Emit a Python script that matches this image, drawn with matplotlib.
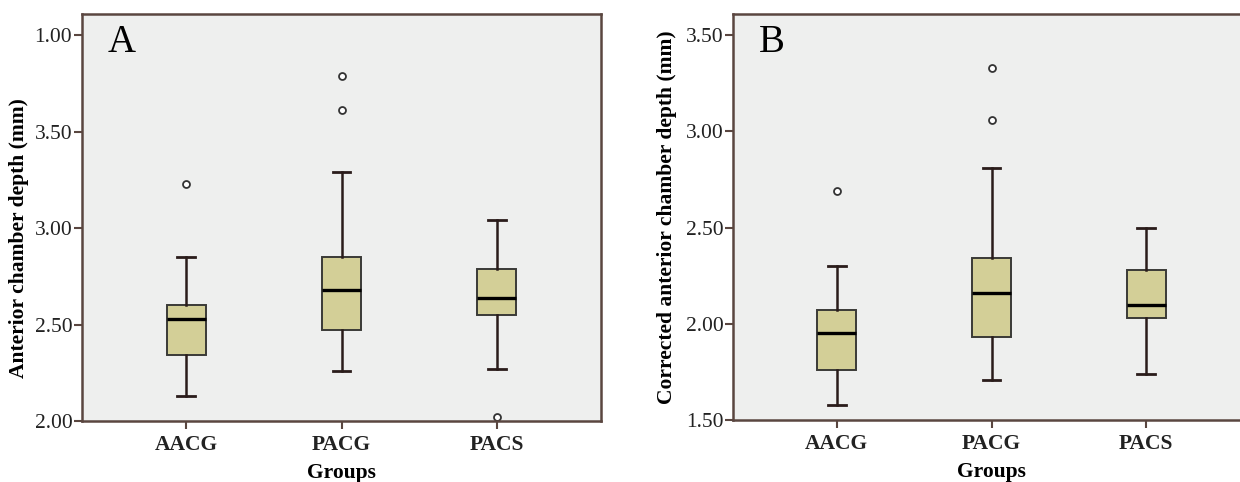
import numpy as np
import matplotlib
matplotlib.use("Agg")
import matplotlib.pyplot as plt

groups = ['AACG', 'PACG', 'PACS']

# panel A - anterior chamber depth (mm)
acd_lo = [2.13, 2.26, 2.27]
acd_q1 = [2.34, 2.47, 2.55]
acd_med = [2.53, 2.68, 2.64]
acd_q3 = [2.60, 2.85, 2.79]
acd_hi = [2.85, 3.29, 3.04]
acd_out = [[3.23], [3.61, 3.79], [2.02]]

# panel B - corrected anterior chamber depth (mm)
cacd_lo = [1.58, 1.71, 1.74]
cacd_q1 = [1.76, 1.93, 2.03]
cacd_med = [1.95, 2.16, 2.10]
cacd_q3 = [2.07, 2.34, 2.28]
cacd_hi = [2.30, 2.81, 2.50]
cacd_out = [[2.69], [3.06, 3.33], []]

yticks_a = [2.00, 2.50, 3.00, 3.50, 4.00]
yticklabels_a = ['2.00', '2.50', '3.00', '3.50', '1.00']
yticks_b = [1.50, 2.00, 2.50, 3.00, 3.50]
yticklabels_b = ['1.50', '2.00', '2.50', '3.00', '3.50']

plt.rcParams['font.family'] = ['Liberation Serif', 'DejaVu Serif']

spine_col = '#5a4640'
line_col = '#2a1c1a'
box_fill = '#d3cf97'
bg = '#eeefee'


def make_stats(lo, q1, med, q3, hi, out):
	stats = []
	for i in range(len(lo)):
		stats.append({'whislo': lo[i], 'q1': q1[i], 'med': med[i], 'q3': q3[i],
					  'whishi': hi[i], 'fliers': np.array(out[i]), 'label': groups[i]})
	return stats


def draw_panel(ax, stats, ylim, yticks, yticklabels, ylabel, letter, label_x, label_y):
	ax.set_facecolor(bg)
	ax.bxp(stats, positions=range(len(stats)), widths=0.25, patch_artist=True,
		   boxprops=dict(facecolor=box_fill, edgecolor='#3a3a36', linewidth=1.4),
		   medianprops=dict(color='black', linewidth=2.4),
		   whiskerprops=dict(color=line_col, linewidth=1.8),
		   capprops=dict(color=line_col, linewidth=2.0),
		   capwidths=0.115,
		   flierprops=dict(marker='o', markersize=5, markerfacecolor='white',
						   markeredgecolor='#333333', markeredgewidth=1.3))
	ax.set_xlim(-0.67, 2.67)
	ax.set_ylim(*ylim)
	ax.set_yticks(yticks)
	ax.set_yticklabels(yticklabels, fontsize=15.5, color='#222222')
	ax.set_xticks(range(len(groups)))
	ax.set_xticklabels(groups, fontsize=15.5, fontweight='bold', color='#222222')
	ax.tick_params(axis='both', direction='out', length=6, width=1.5, color=spine_col)
	ax.tick_params(axis='y', pad=1)
	ax.tick_params(axis='x', pad=4)
	for s in ax.spines.values():
		s.set_color(spine_col)
		s.set_linewidth(1.8)
	ax.set_ylabel(ylabel, fontsize=15.5, fontweight='bold')
	ax.yaxis.set_label_coords(label_x, label_y)
	ax.set_xlabel('Groups', fontsize=15.5, fontweight='bold', labelpad=6)
	ax.text(0.05, 0.975, letter, transform=ax.transAxes, fontsize=28,
			ha='left', va='top', color='black')


fig = plt.figure(figsize=(12.4, 4.82), dpi=100)
fig.patch.set_facecolor('white')

axA = fig.add_axes([82 / 1240, 61 / 482, 519 / 1240, 407 / 482])
axB = fig.add_axes([733 / 1240, 62 / 482, 517 / 1240, 406 / 482])

draw_panel(axA, make_stats(acd_lo, acd_q1, acd_med, acd_q3, acd_hi, acd_out),
		   (2.0, 4.11), yticks_a, yticklabels_a, 'Anterior chamber depth (mm)', 'A', -0.102, 0.45)
draw_panel(axB, make_stats(cacd_lo, cacd_q1, cacd_med, cacd_q3, cacd_hi, cacd_out),
		   (1.5, 3.61), yticks_b, yticklabels_b, 'Corrected anterior chamber depth (mm)', 'B', -0.108, 0.5)

fig.savefig('out.png', dpi=100, facecolor=fig.get_facecolor())
